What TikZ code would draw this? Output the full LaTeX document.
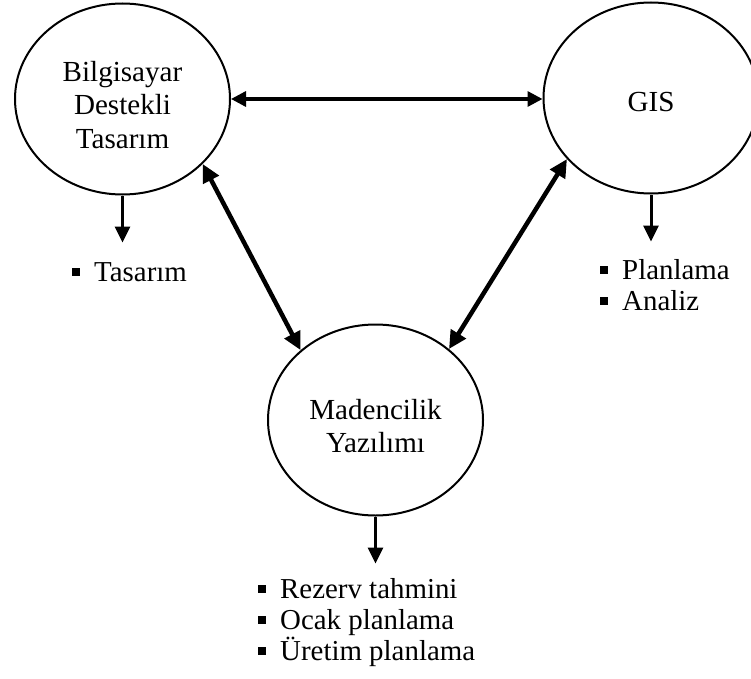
\documentclass[tikz,border=0pt]{standalone}
\usepackage{fontspec}
\setmainfont{Liberation Serif}
\usetikzlibrary{shapes.geometric,arrows.meta}
\newcommand{\mybullet}{\rule[5bp]{8bp}{8.5bp}\hspace{14bp}}
\begin{document}
\begin{tikzpicture}[x=1bp,y=-1bp,
  bubble/.style={draw,line width=2bp,ellipse,minimum width=215bp,minimum height=191bp,inner sep=0pt},
  bubtext/.style={align=center,font=\fontsize{29.2}{33.2}\selectfont,inner sep=0pt},
  listitem/.style={anchor=base west,font=\fontsize{29}{31}\selectfont,inner sep=0pt},
  biarrow/.style={line width=4.5bp,{Triangle[width=17bp,length=18bp]}-{Triangle[width=17bp,length=18bp]}},
  harrow/.style={line width=3.3bp,{Triangle[width=15bp,length=15bp]}-{Triangle[width=15bp,length=15bp]}},
  downarrow/.style={line width=3bp,-{Triangle[width=15bp,length=16bp]}}
]
\useasboundingbox (0,0) rectangle (751,679);
\clip (0,0) rectangle (751,679);

% ellipses
\node[bubble] (cad) at (122.5,99) {};
\node[bubble] (gis) at (651,98) {};
\node[bubble] (mad) at (375.5,420) {};

% ellipse texts
\node[bubtext] (cadtext) at (122.5,105) {Bilgisayar\\Destekli\\Tasarım};
\node[bubtext] (gistext) at (651,102.5) {GIS};
\node[bubtext] (madtext) at (375.5,426) {Madencilik\\Yazılımı};

% connections between ellipses
\draw[harrow] (cad.east) -- (cad.east -| gis.west);
\draw[biarrow] (cad.-39) -- (mad.137.7);
\draw[biarrow] (gis.216.7) -- (mad.44.6);

% down arrows
\draw[downarrow] (cad.south) -- ++(0,47);
\draw[downarrow] (gis.south) -- ++(0,47);
\draw[downarrow] (mad.south) -- ++(0,47);

% lists
\node[listitem] (l1a) at (72,281) {\mybullet Tasarım};
\node[listitem] (l2a) at (600,279) {\mybullet Planlama};
\node[listitem] (l2b) at (600,310) {\mybullet Analiz};
\node[listitem] (l3a) at (258,598) {\mybullet Rezerv tahmini};
\node[listitem] (l3b) at (258,629) {\mybullet Ocak planlama};
\node[listitem] (l3c) at (258,660) {\mybullet Üretim planlama};
\end{tikzpicture}
\end{document}
